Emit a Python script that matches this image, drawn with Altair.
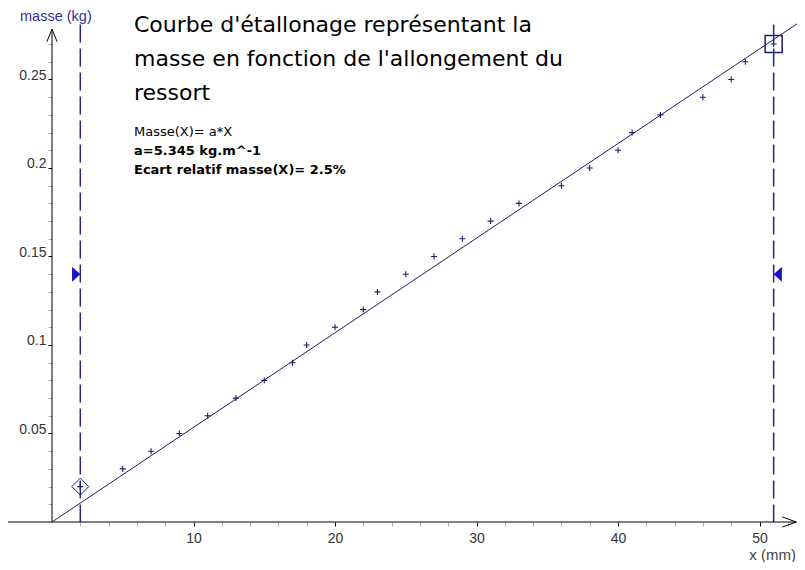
import altair as alt
import pandas as pd

# ---- data ----
allongement_mm = [2, 5, 7, 9, 11, 13, 15, 17, 18, 20, 22, 23, 25, 27, 29, 31, 33,
                  36, 38, 40, 41, 43, 46, 48, 49, 51]
masse_kg = [0.02, 0.03, 0.04, 0.05, 0.06, 0.07, 0.08, 0.09, 0.10, 0.11, 0.12, 0.13,
            0.14, 0.15, 0.16, 0.17, 0.18, 0.19, 0.20, 0.21, 0.22, 0.23, 0.24, 0.25,
            0.26, 0.27]
a_kg_per_mm = 0.005345            # a = 5.345 kg/m
fit_x = [0, 53.3]
cursor_x = [2, 51]
cursor_y = [0.02, 0.27]
cursor_top = 0.281
triangle_y = 0.140
x_domain = [0, 52.65]
y_domain = [0, 0.2836]
x_axis_extent = [-3.4, 52.6]
y_axis_top = 0.2785
x_ticks = list(range(2, 53, 2))
y_ticks = [round(0.01 * i, 2) for i in range(1, 28)]

title_lines = ["Courbe d'étallonage représentant la",
               "masse en fonction de l'allongement du",
               "ressort"]
formula_line = "Masse(X)= a*X"
result_lines = ["a=5.345 kg.m^-1", "Ecart relatif masse(X)= 2.5%"]

NAVY = "#1c1c6c"
CURSOR = "#26267e"
TRI = "#1414c8"

xscale = alt.Scale(domain=x_domain, nice=False, zero=False)
yscale = alt.Scale(domain=y_domain, nice=False, zero=False)

xaxis = alt.Axis(values=x_ticks, domain=False, grid=False, title=None,
                 tickSize=4, labelPadding=5,
                 tickColor={"condition": {"test": "datum.value % 10 === 0", "value": "#000000"},
                            "value": "#b0b0b0"},
                 labelExpr="datum.value % 10 === 0 ? datum.label : ''",
                 labelFont="Liberation Sans", labelFontSize=14, labelColor="#333333")
yaxis = alt.Axis(values=y_ticks, domain=False, grid=False, title=None,
                 tickSize=4, labelPadding=2, labelBaseline="alphabetic",
                 tickColor={"condition": {"test": "round(datum.value*100) % 5 === 0", "value": "#000000"},
                            "value": "#b0b0b0"},
                 labelExpr="round(datum.value*100) % 5 === 0 ? format(datum.value, '.2~f') : ''",
                 labelFont="Liberation Sans", labelFontSize=14, labelColor="#333333")


def X(field):
    return alt.X(field, type="quantitative", scale=xscale, axis=xaxis)


def Y(field):
    return alt.Y(field, type="quantitative", scale=yscale, axis=yaxis)


pts = pd.DataFrame({"x": allongement_mm, "m": masse_kg})

# axis lines
x_axis_line = alt.Chart(pd.DataFrame({"x0": [x_axis_extent[0]], "x1": [x_axis_extent[1]], "y": [0.0]})).mark_rule(
    color="#000000", strokeWidth=1).encode(x=X("x0"), x2="x1", y=Y("y"))
y_axis_line = alt.Chart(pd.DataFrame({"x": [0.0], "y0": [0.0], "y1": [y_axis_top]})).mark_rule(
    color="#000000", strokeWidth=1).encode(x=X("x"), y=Y("y0"), y2="y1")

y_arrow = alt.Chart(pd.DataFrame({"x": [0.0], "y": [y_axis_top]})).mark_point(
    shape="M-0.4,1 L0,0 L0.4,1", size=645, filled=False, color="#000000", strokeWidth=1, opacity=1
).encode(x=X("x"), y=Y("y"))
x_arrow = alt.Chart(pd.DataFrame({"x": [x_axis_extent[1]], "y": [0.0]})).mark_point(
    shape="M-1,-0.36 L0,0 L-1,0.36", size=784, filled=False, color="#000000", strokeWidth=1, opacity=1
).encode(x=X("x"), y=Y("y"))

# cursors (dashes start from the top)
cursors = alt.Chart(pd.DataFrame({"x": cursor_x, "y0": [cursor_top, cursor_top], "y1": [0.0, 0.0]})).mark_rule(
    color=CURSOR, strokeWidth=1.5, strokeDash=[18, 6]).encode(x=X("x"), y=Y("y0"), y2="y1")

diamond = alt.Chart(pd.DataFrame({"x": cursor_x[:1], "y": cursor_y[:1]})).mark_point(
    shape="diamond", size=289, filled=False, color=NAVY, strokeWidth=1, opacity=1
).encode(x=X("x"), y=Y("y"))
square = alt.Chart(pd.DataFrame({"x": cursor_x[1:], "y": cursor_y[1:]})).mark_point(
    shape="square", size=289, filled=False, color=NAVY, strokeWidth=1.5, opacity=1
).encode(x=X("x"), y=Y("y"))

tri_left = alt.Chart(pd.DataFrame({"x": cursor_x[:1], "y": [triangle_y]})).mark_point(
    shape="M-1.1,-1 L0,0 L-1.1,1 Z", size=225, filled=True, color=TRI, opacity=1
).encode(x=X("x"), y=Y("y"))
tri_right = alt.Chart(pd.DataFrame({"x": cursor_x[1:], "y": [triangle_y]})).mark_point(
    shape="M1.1,-1 L0,0 L1.1,1 Z", size=225, filled=True, color=TRI, opacity=1
).encode(x=X("x"), y=Y("y"))

# fitted line  masse = a * x
fit = alt.Chart(pd.DataFrame({"x": fit_x})).transform_calculate(
    m=f"{a_kg_per_mm} * datum.x").mark_line(color=NAVY, strokeWidth=1).encode(x=X("x"), y=Y("m"))

# measured points
points = alt.Chart(pts).mark_point(
    shape="M-1,0 L1,0 M0,-1 L0,1", size=36, filled=False, color=NAVY, strokeWidth=1.1, opacity=1
).encode(x=X("x"), y=Y("m"))

one = pd.DataFrame({"d": [0]})
title_txt = alt.Chart(one).mark_text(
    text=title_lines, align="left", baseline="alphabetic", font="DejaVu Sans", fontSize=22,
    lineHeight=34, color="#000000").encode(x=alt.value(82), y=alt.value(12))
formula_txt = alt.Chart(one).mark_text(
    text=formula_line, align="left", baseline="alphabetic", font="DejaVu Sans", fontSize=13,
    color="#000000").encode(x=alt.value(82), y=alt.value(116))
result_txt = alt.Chart(one).mark_text(
    text=result_lines, align="left", baseline="alphabetic", font="DejaVu Sans", fontSize=13,
    fontWeight="bold", lineHeight=18.5, color="#000000").encode(x=alt.value(82), y=alt.value(135))
ytitle = alt.Chart(one).mark_text(
    text="masse (kg)", align="left", baseline="top", font="Liberation Sans", fontSize=14.5,
    color="#30309a").encode(x=alt.value(-32), y=alt.value(-10))
xtitle = alt.Chart(one).mark_text(
    text="x (mm)", align="right", baseline="alphabetic", font="Liberation Sans", fontSize=15,
    color="#444444").encode(x=alt.value(744), y=alt.value(540))

chart = alt.layer(
    cursors, x_axis_line, y_axis_line, y_arrow, x_arrow, fit, points, diamond, square,
    tri_left, tri_right, title_txt, formula_txt, result_txt, ytitle, xtitle
).properties(
    width=745, height=502,
    padding={"left": 44, "top": 12, "right": 0, "bottom": 40},
    autosize=alt.AutoSizeParams(type="none"),
    background="#ffffff",
).configure_view(stroke=None)

chart.save("out.html", embed_options={"renderer": "svg", "actions": False})
